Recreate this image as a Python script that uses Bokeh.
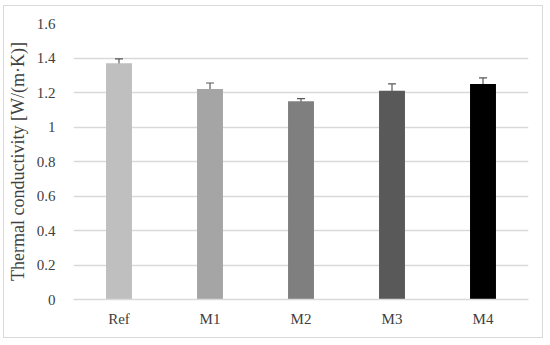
from bokeh.plotting import figure
from bokeh.models import ColumnDataSource, Whisker, TeeHead, FixedTicker
from bokeh.embed import file_html
from bokeh.resources import INLINE

categories = ["Ref", "M1", "M2", "M3", "M4"]
values = [1.37, 1.22, 1.15, 1.21, 1.25]
errors = [0.025, 0.035, 0.015, 0.04, 0.035]
colors = ["#BFBFBF", "#A5A5A5", "#7F7F7F", "#595959", "#000000"]
y_ticks = [0, 0.2, 0.4, 0.6, 0.8, 1.0, 1.2, 1.4, 1.6]
y_tick_labels = ["0", "0.2", "0.4", "0.6", "0.8", "1", "1.2", "1.4", "1.6"]

src = ColumnDataSource(dict(
    cat=categories, val=values, color=colors,
    upper=[v + e for v, e in zip(values, errors)],
    lower=[v - e for v, e in zip(values, errors)],
))

p = figure(x_range=categories, y_range=(0, 1.6), width=540, height=333,
           output_backend="svg", toolbar_location=None,
           min_border_left=68, min_border_right=16, min_border_top=17, min_border_bottom=40)
p.styles = {"border": "1px solid #D9D9D9", "margin": "5px 0px 0px 3px"}
p.outline_line_color = None
p.vbar(x="cat", top="val", width=0.285, fill_color="color", line_color=None, source=src)

w = Whisker(base="cat", upper="upper", lower="lower", source=src,
            line_color="#595959", line_width=1.2)
w.upper_head = TeeHead(size=8, line_color="#595959", line_width=1.2)
w.lower_head = TeeHead(size=8, line_color="#595959", line_width=1.2)
p.add_layout(w)

font = "Liberation Serif"
p.yaxis.ticker = FixedTicker(ticks=y_ticks)
p.yaxis.major_label_overrides = {t: l for t, l in zip(y_ticks, y_tick_labels)}
p.yaxis.axis_line_color = None
p.yaxis.major_tick_line_color = None
p.yaxis.minor_tick_line_color = None
p.yaxis.major_label_standoff = 12
p.yaxis.axis_label = "Thermal conductivity [W/(m·K)]"
p.yaxis.axis_label_text_font = font
p.yaxis.axis_label_text_font_style = "normal"
p.yaxis.axis_label_text_font_size = "18px"
p.yaxis.axis_label_text_color = "#404040"
p.yaxis.axis_label_standoff = 6

p.xaxis.axis_line_color = "#D9D9D9"
p.xaxis.axis_line_width = 1.5
p.xaxis.major_tick_line_color = None
p.xaxis.minor_tick_line_color = None
p.xaxis.major_label_standoff = 5

for ax in (p.xaxis, p.yaxis):
    ax.major_label_text_font = font
    ax.major_label_text_font_size = "15px"
    ax.major_label_text_color = "#404040"

p.xgrid.grid_line_color = None
p.ygrid.grid_line_color = "#D9D9D9"
p.ygrid.grid_line_width = 1.5

open("out.html", "w").write(file_html(p, INLINE))
